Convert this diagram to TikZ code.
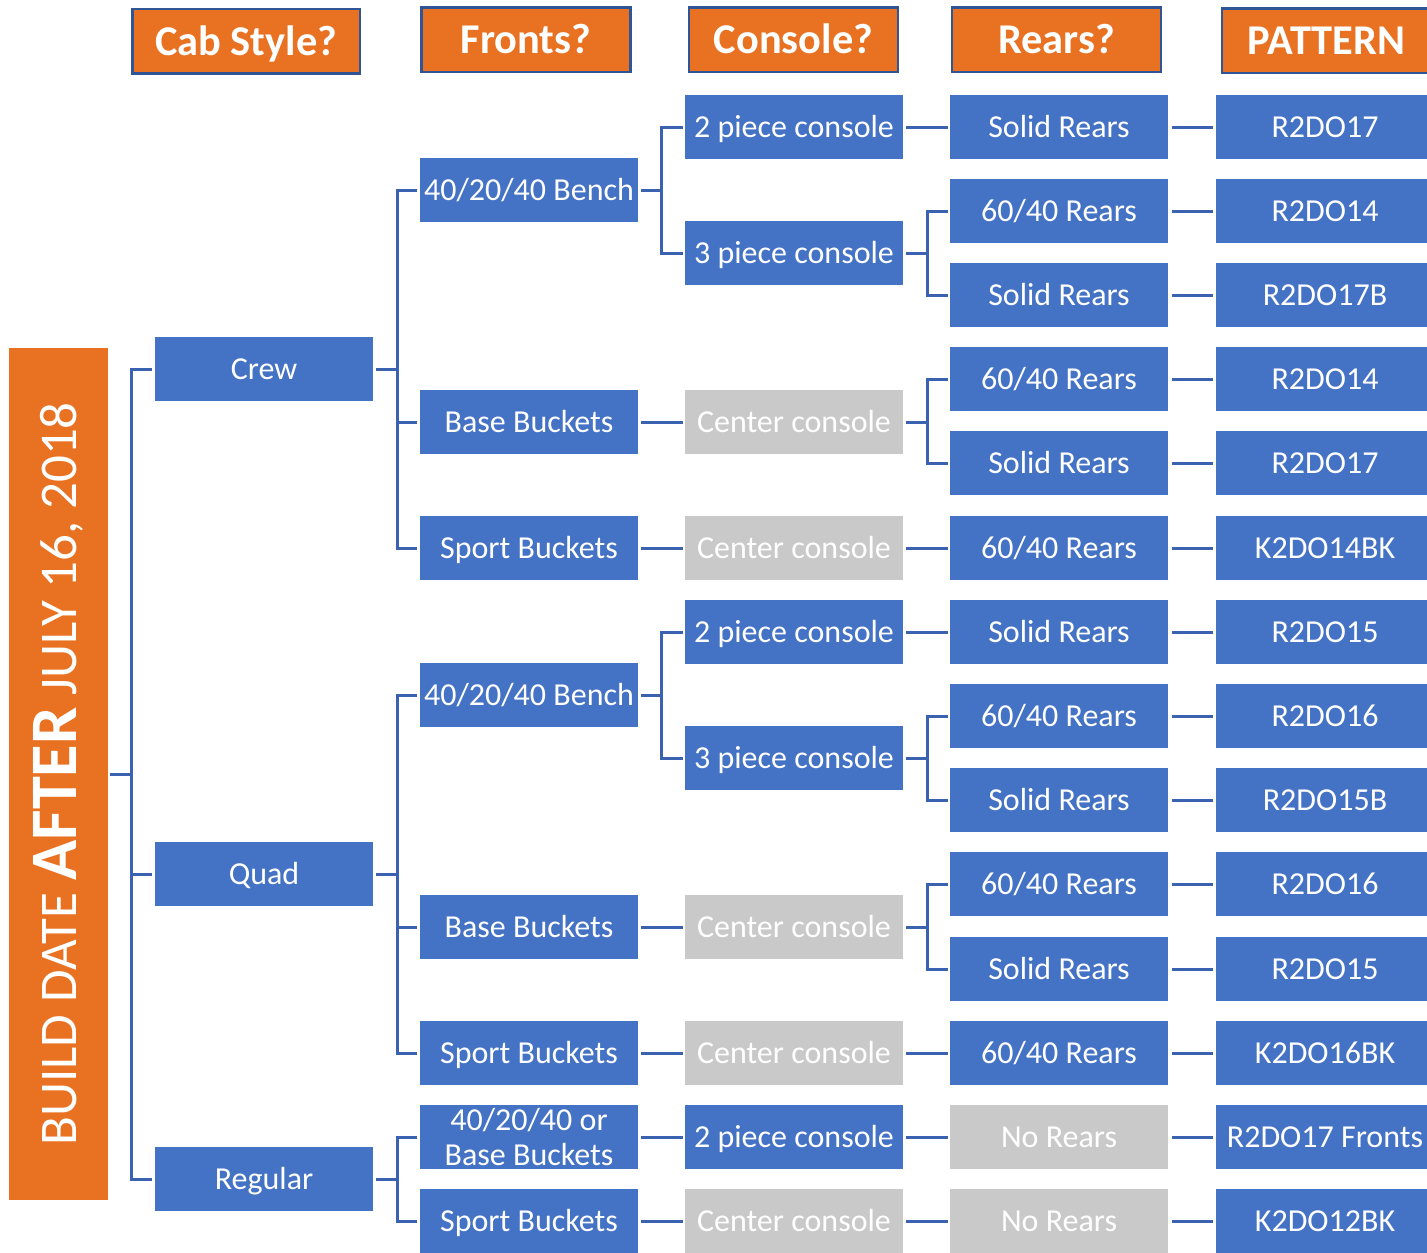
\documentclass[tikz,border=0pt]{standalone}
\usepackage{fontspec}
\setmainfont{Carlito}
\usepackage{xcolor}
\usepackage{tikz}

\definecolor{boxblue}{HTML}{4472C4}
\definecolor{boxgrey}{HTML}{C9C9C9}
\definecolor{headorange}{HTML}{E97122}
\definecolor{headblue}{HTML}{2F5597}
\definecolor{lineblue}{HTML}{3A62B0}

\tikzset{
	box/.style={fill=boxblue, text=white, minimum width=109pt, minimum height=32pt, inner sep=0pt,
		font=\fontsize{16}{17.5}\selectfont, text height=10.3pt, text depth=0pt, align=center},
	greybox/.style={box, fill=boxgrey},
	head/.style={fill=headorange, draw=headblue, line width=1.25pt, text=white, minimum width=104.5pt,
		minimum height=32.25pt, inner sep=0pt, font=\bfseries\fontsize{21.2}{25}\selectfont, text height=13.6pt, text depth=0pt},
	banner/.style={fill=headorange, text=white, rotate=90, minimum width=426pt, minimum height=49.5pt,
		inner sep=0pt, font=\fontsize{26.5}{31}\selectfont},
	link/.style={draw=lineblue, line width=1.5pt},
}

\begin{document}
\begin{tikzpicture}[x=0.5pt,y=-0.5pt]
	\clip (0,0) rectangle (1427,1252);
	% headers
	\node[head, minimum width=113.75pt] at (246,41.5) (50) {Cab Style?};
	\node[head] at (526,40) (51) {Fronts?};
	\node[head] at (793.5,40) (52) {Console?};
	\node[head] at (1056.5,40) (53) {Rears?};
	\node[head] at (1326.5,41) (54) {PATTERN};
	% build date
	\node[banner] at (58.5,774) (0) {BUILD DATE {\bfseries\fontsize{33.2}{38}\selectfont AFTER} JULY 16, 2018};
	% cab style
	\node[box] at (264,369) (1) {Crew};
	\node[box] at (264,874) (2) {Quad};
	\node[box] at (264,1179) (3) {Regular};
	% fronts
	\node[box] at (529,190) (4) {40/20/40 Bench};
	\node[box] at (529,422) (5) {Base Buckets};
	\node[box] at (529,548) (6) {Sport Buckets};
	\node[box] at (529,695) (7) {40/20/40 Bench};
	\node[box] at (529,927) (8) {Base Buckets};
	\node[box] at (529,1053) (9) {Sport Buckets};
	\node[box, text height=, text depth=] at (529,1137) (10) {40/20/40 or\\Base Buckets};
	\node[box] at (529,1221) (11) {Sport Buckets};
	% console
	\node[box] at (794,127) (12) {2 piece console};
	\node[box] at (794,253) (13) {3 piece console};
	\node[greybox] at (794,422) (14) {Center console};
	\node[greybox] at (794,548) (15) {Center console};
	\node[box] at (794,632) (16) {2 piece console};
	\node[box] at (794,758) (17) {3 piece console};
	\node[greybox] at (794,927) (18) {Center console};
	\node[greybox] at (794,1053) (19) {Center console};
	\node[box] at (794,1137) (20) {2 piece console};
	\node[greybox] at (794,1221) (21) {Center console};
	% rears
	\node[box] at (1059,127) (22) {Solid Rears};
	\node[box] at (1059,211) (23) {60/40 Rears};
	\node[box] at (1059,295) (24) {Solid Rears};
	\node[box] at (1059,379) (25) {60/40 Rears};
	\node[box] at (1059,463) (26) {Solid Rears};
	\node[box] at (1059,548) (27) {60/40 Rears};
	\node[box] at (1059,632) (28) {Solid Rears};
	\node[box] at (1059,716) (29) {60/40 Rears};
	\node[box] at (1059,800) (30) {Solid Rears};
	\node[box] at (1059,884) (31) {60/40 Rears};
	\node[box] at (1059,969) (32) {Solid Rears};
	\node[box] at (1059,1053) (33) {60/40 Rears};
	\node[greybox] at (1059,1137) (34) {No Rears};
	\node[greybox] at (1059,1221) (35) {No Rears};
	% pattern
	\node[box] at (1325,127) (36) {R2DO17};
	\node[box] at (1325,211) (37) {R2DO14};
	\node[box] at (1325,295) (38) {R2DO17B};
	\node[box] at (1325,379) (39) {R2DO14};
	\node[box] at (1325,463) (40) {R2DO17};
	\node[box] at (1325,548) (41) {K2DO14BK};
	\node[box] at (1325,632) (42) {R2DO15};
	\node[box] at (1325,716) (43) {R2DO16};
	\node[box] at (1325,800) (44) {R2DO15B};
	\node[box] at (1325,884) (45) {R2DO16};
	\node[box] at (1325,969) (46) {R2DO15};
	\node[box] at (1325,1053) (47) {K2DO16BK};
	\node[box] at (1325,1137) (48) {R2DO17 Fronts};
	\node[box] at (1325,1221) (49) {K2DO12BK};
	% connectors
	\draw [link] ([xshift=1pt]0.south) -- ++(21,0) |- ([xshift=-1.5pt]1.west);
	\draw [link] ([xshift=1pt]0.south) -- ++(21,0) |- ([xshift=-1.5pt]2.west);
	\draw [link] ([xshift=1pt]0.south) -- ++(21,0) |- ([xshift=-1.5pt]3.west);
	\draw [link] ([xshift=1.5pt]1.east) -- ++(21,0) |- ([xshift=-1.5pt]4.west);
	\draw [link] ([xshift=1.5pt]1.east) -- ++(21,0) |- ([xshift=-1.5pt]5.west);
	\draw [link] ([xshift=1.5pt]1.east) -- ++(21,0) |- ([xshift=-1.5pt]6.west);
	\draw [link] ([xshift=1.5pt]2.east) -- ++(21,0) |- ([xshift=-1.5pt]7.west);
	\draw [link] ([xshift=1.5pt]2.east) -- ++(21,0) |- ([xshift=-1.5pt]8.west);
	\draw [link] ([xshift=1.5pt]2.east) -- ++(21,0) |- ([xshift=-1.5pt]9.west);
	\draw [link] ([xshift=1.5pt]3.east) -- ++(21,0) |- ([xshift=-1.5pt]10.west);
	\draw [link] ([xshift=1.5pt]3.east) -- ++(21,0) |- ([xshift=-1.5pt]11.west);
	\draw [link] ([xshift=1.5pt]4.east) -- ++(20,0) |- ([xshift=-1pt]12.west);
	\draw [link] ([xshift=1.5pt]4.east) -- ++(20,0) |- ([xshift=-1pt]13.west);
	\draw [link] ([xshift=1.5pt]5.east) -- ([xshift=-1pt]14.west);
	\draw [link] ([xshift=1.5pt]6.east) -- ([xshift=-1pt]15.west);
	\draw [link] ([xshift=1.5pt]7.east) -- ++(20,0) |- ([xshift=-1pt]16.west);
	\draw [link] ([xshift=1.5pt]7.east) -- ++(20,0) |- ([xshift=-1pt]17.west);
	\draw [link] ([xshift=1.5pt]8.east) -- ([xshift=-1pt]18.west);
	\draw [link] ([xshift=1.5pt]9.east) -- ([xshift=-1pt]19.west);
	\draw [link] ([xshift=1.5pt]10.east) -- ([xshift=-1pt]20.west);
	\draw [link] ([xshift=1.5pt]11.east) -- ([xshift=-1pt]21.west);
	\draw [link] ([xshift=1.5pt]12.east) -- ([xshift=-1pt]22.west);
	\draw [link] ([xshift=1.5pt]13.east) -- ++(21,0) |- ([xshift=-1pt]23.west);
	\draw [link] ([xshift=1.5pt]13.east) -- ++(21,0) |- ([xshift=-1pt]24.west);
	\draw [link] ([xshift=1.5pt]14.east) -- ++(21,0) |- ([xshift=-1pt]25.west);
	\draw [link] ([xshift=1.5pt]14.east) -- ++(21,0) |- ([xshift=-1pt]26.west);
	\draw [link] ([xshift=1.5pt]15.east) -- ([xshift=-1pt]27.west);
	\draw [link] ([xshift=1.5pt]16.east) -- ([xshift=-1pt]28.west);
	\draw [link] ([xshift=1.5pt]17.east) -- ++(21,0) |- ([xshift=-1pt]29.west);
	\draw [link] ([xshift=1.5pt]17.east) -- ++(21,0) |- ([xshift=-1pt]30.west);
	\draw [link] ([xshift=1.5pt]18.east) -- ++(21,0) |- ([xshift=-1pt]31.west);
	\draw [link] ([xshift=1.5pt]18.east) -- ++(21,0) |- ([xshift=-1pt]32.west);
	\draw [link] ([xshift=1.5pt]19.east) -- ([xshift=-1pt]33.west);
	\draw [link] ([xshift=1.5pt]20.east) -- ([xshift=-1pt]34.west);
	\draw [link] ([xshift=1.5pt]21.east) -- ([xshift=-1pt]35.west);
	\draw [link] ([xshift=2pt]22.east) -- ([xshift=-1.5pt]36.west);
	\draw [link] ([xshift=2pt]23.east) -- ([xshift=-1.5pt]37.west);
	\draw [link] ([xshift=2pt]24.east) -- ([xshift=-1.5pt]38.west);
	\draw [link] ([xshift=2pt]25.east) -- ([xshift=-1.5pt]39.west);
	\draw [link] ([xshift=2pt]26.east) -- ([xshift=-1.5pt]40.west);
	\draw [link] ([xshift=2pt]27.east) -- ([xshift=-1.5pt]41.west);
	\draw [link] ([xshift=2pt]28.east) -- ([xshift=-1.5pt]42.west);
	\draw [link] ([xshift=2pt]29.east) -- ([xshift=-1.5pt]43.west);
	\draw [link] ([xshift=2pt]30.east) -- ([xshift=-1.5pt]44.west);
	\draw [link] ([xshift=2pt]31.east) -- ([xshift=-1.5pt]45.west);
	\draw [link] ([xshift=2pt]32.east) -- ([xshift=-1.5pt]46.west);
	\draw [link] ([xshift=2pt]33.east) -- ([xshift=-1.5pt]47.west);
	\draw [link] ([xshift=2pt]34.east) -- ([xshift=-1.5pt]48.west);
	\draw [link] ([xshift=2pt]35.east) -- ([xshift=-1.5pt]49.west);
\end{tikzpicture}
\end{document}
